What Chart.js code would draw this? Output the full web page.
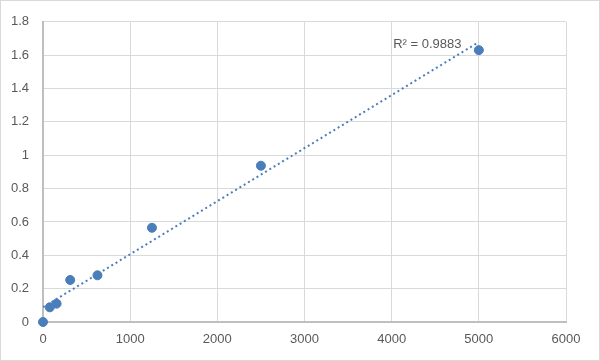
<!DOCTYPE html>
<html>
<head>
<meta charset="utf-8">
<script src="https://cdn.jsdelivr.net/npm/chart.js@4/dist/chart.umd.min.js"></script>
<style>
  html, body { margin: 0; padding: 0; background: #fff; }
  #wrap { width: 600px; height: 361px; }
</style>
</head>
<body>
<div id="wrap"><canvas id="chart" width="600" height="361"></canvas></div>
<script>
// concentration vs. OD readings
const xValues = [0, 78, 156, 312, 625, 1250, 2500, 5000];
const yValues = [0, 0.088, 0.11, 0.252, 0.28, 0.565, 0.937, 1.63];
const xTicks = [0, 1000, 2000, 3000, 4000, 5000, 6000];
const yTicks = [0, 0.2, 0.4, 0.6, 0.8, 1, 1.2, 1.4, 1.6, 1.8];
const r2Label = 'R² = 0.9883';

const blue = '#4a7ebb';
const grid = '#d9d9d9';
const tickColor = '#595959';

// least-squares linear trendline over the points
function linearFit(xs, ys) {
    const n = xs.length;
    const mx = xs.reduce((a, b) => a + b, 0) / n;
    const my = ys.reduce((a, b) => a + b, 0) / n;
    let sxy = 0, sxx = 0;
    for (let i = 0; i < n; i++) {
        sxy += (xs[i] - mx) * (ys[i] - my);
        sxx += (xs[i] - mx) * (xs[i] - mx);
    }
    const slope = sxy / sxx;
    return { slope: slope, intercept: my - slope * mx };
}

const fit = linearFit(xValues, yValues);
const xMin = Math.min(...xValues), xMax = Math.max(...xValues);
const trend = [
    { x: xMin, y: fit.intercept + fit.slope * xMin },
    { x: xMax, y: fit.intercept + fit.slope * xMax }
];

const frame = {
    id: 'frame',
    beforeDraw(chart) {
        const ctx = chart.ctx;
        ctx.save();
        ctx.fillStyle = '#fff';
        ctx.fillRect(0, 0, chart.width, chart.height);
        ctx.strokeStyle = grid;
        ctx.lineWidth = 1;
        ctx.strokeRect(0.5, 0.5, chart.width - 1, chart.height - 1);
        ctx.restore();
    },
    afterDatasetsDraw(chart) {
        const ctx = chart.ctx;
        const xs = chart.scales.x, ys = chart.scales.y;
        ctx.save();
        ctx.font = '13px "Liberation Sans", Arial, sans-serif';
        ctx.fillStyle = tickColor;
        ctx.textBaseline = 'middle';
        ctx.fillText(r2Label, xs.getPixelForValue(4017), ys.getPixelForValue(1.665));
        ctx.restore();
    }
};

new Chart(document.getElementById('chart'), {
    type: 'scatter',
    data: {
        datasets: [{
            type: 'line',
            data: trend,
            borderColor: blue,
            borderWidth: 2,
            borderDash: [2, 3],
            pointRadius: 0,
            fill: false
        }, {
            data: xValues.map((x, i) => ({ x: x, y: yValues[i] })),
            backgroundColor: blue,
            borderColor: blue,
            pointRadius: 4.5,
            pointHoverRadius: 4.5,
            clip: false
        }]
    },
    options: {
        responsive: false,
        animation: false,
        layout: { padding: { left: 0, right: 34, top: 19, bottom: 0 } },
        plugins: {
            legend: { display: false },
            tooltip: { enabled: false }
        },
        scales: {
            x: {
                type: 'linear',
                min: 0,
                max: 6000,
                afterBuildTicks: s => { s.ticks = xTicks.map(v => ({ value: v })); },
                afterFit: s => { s.height = 39; },
                grid: { color: grid, lineWidth: 1, drawTicks: false },
                border: { color: '#bfbfbf', width: 2 },
                ticks: {
                    color: tickColor,
                    padding: 10,
                    font: { family: '"Liberation Sans", Arial, sans-serif', size: 13 },
                    callback: v => String(v)
                }
            },
            y: {
                min: 0,
                max: 1.8,
                afterBuildTicks: s => { s.ticks = yTicks.map(v => ({ value: v })); },
                afterFit: s => { s.width = 43; },
                grid: { color: grid, lineWidth: 1, drawTicks: false },
                border: { color: '#bfbfbf', width: 2 },
                ticks: {
                    color: tickColor,
                    padding: 14,
                    font: { family: '"Liberation Sans", Arial, sans-serif', size: 13 },
                    callback: v => String(Math.round(v * 10) / 10)
                }
            }
        }
    },
    plugins: [frame]
});
</script>
</body>
</html>
